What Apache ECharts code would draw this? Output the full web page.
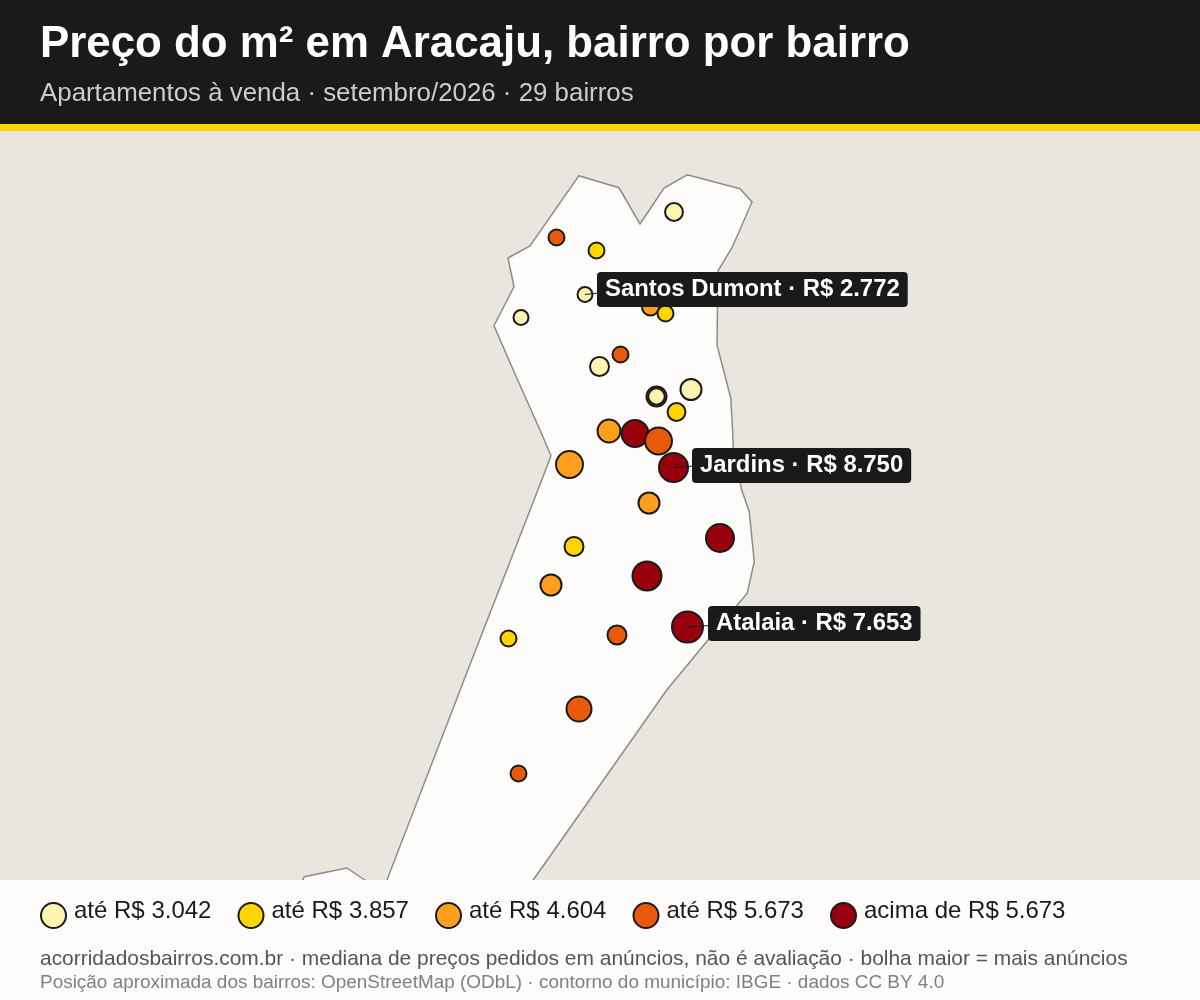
<!DOCTYPE html>
<html>
<head>
<meta charset="utf-8">
<title>Preço do m² em Aracaju</title>
<script src="https://cdn.jsdelivr.net/npm/echarts@6/dist/echarts.min.js"></script>
<style>
html, body { margin: 0; padding: 0; background: #fdfcfa; }
#main { width: 1200px; height: 1000px; }
</style>
</head>
<body>
<div id="main"></div>
<script>
// contorno do municipio (lon/lat aproximados)
var contornoLon = [-37.0685, -37.0524, -37.0440, -37.0344, -37.0251, -37.0040, -36.9992, -37.0071, -37.0128, -37.0132,
  -37.0077, -37.0069, -37.0067, -37.0033, -37.0003, -36.9983, -37.0011, -37.0168, -37.0333, -37.0867,
  -37.1000, -37.1820, -37.1789, -37.1783, -37.1613, -37.1541, -37.1488, -37.1452, -37.1144, -37.0833,
  -37.0796, -37.0840, -37.0933, -37.1024, -37.0944, -37.0968, -37.0880];
var contornoLat = [-10.8503, -10.8551, -10.8696, -10.8552, -10.8499, -10.8555, -10.8608, -10.8789, -10.8883, -10.9180,
  -10.9392, -10.9532, -10.9592, -10.9760, -10.9847, -11.0047, -11.0173, -11.0360, -11.0560, -11.1320,
  -11.1520, -11.1520, -11.1320, -11.1307, -11.1272, -11.1320, -11.1368, -11.1320, -11.0520, -10.9720,
  -10.9623, -10.9520, -10.9312, -10.9103, -10.8947, -10.8832, -10.8784];

// bairros, na ordem de desenho
var bairroLon = [-37.0774, -37.0614, -37.0304, -37.0660, -37.0916, -37.0398, -37.0338, -37.0518, -37.0602, -37.0236,
  -37.0374, -37.0374, -37.0294, -37.0564, -37.0460, -37.0366, -37.0722, -37.0306, -37.0404, -37.0120,
  -37.0704, -37.0796, -37.0412, -37.0250, -37.0532, -37.0966, -37.0684, -37.0926];
var bairroLat = [-10.8750, -10.8802, -10.8648, -10.8978, -10.9070, -10.9028, -10.9054, -10.9218, -10.9266, -10.9358,
  -10.9386, -10.9386, -10.9448, -10.9524, -10.9534, -10.9564, -10.9658, -10.9670, -10.9812, -10.9952,
  -10.9986, -11.0140, -11.0104, -11.0308, -11.0340, -11.0354, -11.0636, -11.0894];
var anuncios = [36, 36, 44, 32, 32, 40, 36, 36, 49, 59,
  54, 38, 44, 69, 93, 93, 93, 107, 59, 100,
  49, 59, 107, 121, 49, 36, 81, 36];
var faixa = [3, 1, 0, 0, 0, 2, 1, 3, 0, 0,
  1, 0, 1, 2, 4, 3, 2, 4, 2, 4,
  1, 2, 4, 4, 3, 1, 3, 3];

// legenda
var faixaCores = ['#fff3b0', '#ffd500', '#ff9f1c', '#e8590c', '#99000d'];
var faixaTextos = ['até R$ 3.042', 'até R$ 3.857', 'até R$ 4.604', 'até R$ 5.673', 'acima de R$ 5.673'];

// bairros com rotulo
var rotuloBairro = [3, 17, 23];
var rotuloNome = ['Santos Dumont', 'Jardins', 'Atalaia'];
var rotuloPreco = ['R$ 2.772', 'R$ 8.750', 'R$ 7.653'];

var FONTE = '"Liberation Sans", Arial, sans-serif';
var ESCURO = '#1a1a1a';

var chart = echarts.init(document.getElementById('main'));

var pontos = [];
for (var i = 0; i < bairroLon.length; i++) {
  pontos.push({
    value: [bairroLon[i], bairroLat[i], anuncios[i]],
    itemStyle: { color: faixaCores[faixa[i]] }
  });
}

var rotulos = [];
for (var j = 0; j < rotuloBairro.length; j++) {
  rotulos.push([bairroLon[rotuloBairro[j]], bairroLat[rotuloBairro[j]]]);
}
var rotuloDesloc = [[12, -5], [18.5, -2], [20.5, -3.5]];

// legenda e rodape
var xLegenda = [40, 237.5, 435, 632.5, 830];
var extras = [
  { type: 'rect', z: 1, shape: { x: 0, y: 0, width: 1200, height: 124 }, style: { fill: ESCURO } },
  { type: 'rect', z: 1, shape: { x: 0, y: 124, width: 1200, height: 7 }, style: { fill: '#ffd500' } },
  { type: 'rect', z: 8, shape: { x: 0, y: 880, width: 1200, height: 120 }, style: { fill: '#fdfcfa' } }
];
faixaTextos.forEach(function (t, k) {
  extras.push({
    type: 'circle', z: 9,
    shape: { cx: xLegenda[k] + 13.5, cy: 915.5, r: 12.5 },
    style: { fill: faixaCores[k], stroke: ESCURO, lineWidth: 2 }
  });
  extras.push({
    type: 'text', z: 9, x: xLegenda[k] + 34, y: 911,
    style: { text: t, fill: ESCURO, font: '24px ' + FONTE, verticalAlign: 'middle' }
  });
});
extras.push({
  type: 'text', z: 9, x: 40, y: 959,
  style: { text: 'acorridadosbairros.com.br · mediana de preços pedidos em anúncios, não é avaliação · bolha maior = mais anúncios',
    fill: '#555555', font: '20.95px ' + FONTE, verticalAlign: 'middle' }
});
extras.push({
  type: 'text', z: 9, x: 40, y: 983,
  style: { text: 'Posição aproximada dos bairros: OpenStreetMap (ODbL) · contorno do município: IBGE · dados CC BY 4.0',
    fill: '#808080', font: '18.95px ' + FONTE, verticalAlign: 'middle' }
});

var option = {
  animation: false,
  backgroundColor: '#e9e6df',
  title: [
    { text: 'Preço do m² em Aracaju, bairro por bairro', left: 35, top: 18,
      textStyle: { color: '#ffffff', fontFamily: FONTE, fontWeight: 'bold', fontSize: 43.85 } },
    { text: 'Apartamentos à venda · setembro/2026 · 29 bairros', left: 35, top: 76,
      textStyle: { color: '#cccccc', fontFamily: FONTE, fontWeight: 'normal', fontSize: 25.87 } }
  ],
  grid: { left: 0, right: 0, top: 0, bottom: 0 },
  xAxis: { type: 'value', min: -37.30, max: -36.82, show: false },
  yAxis: { type: 'value', min: -11.18, max: -10.78, show: false },
  graphic: extras,
  series: [
    {
      type: 'custom',
      z: 1,
      silent: true,
      clip: false,
      data: [[contornoLon[0], contornoLat[0]]],
      renderItem: function (params, api) {
        var pts = contornoLon.map(function (lon, n) {
          return api.coord([lon, contornoLat[n]]);
        });
        return {
          type: 'polygon',
          shape: { points: pts },
          style: { fill: '#fdfcfa', stroke: '#8e8c86', lineWidth: 1.5 }
        };
      }
    },
    {
      type: 'scatter',
      z: 2,
      silent: true,
      data: pontos,
      symbol: 'circle',
      symbolSize: function (val) {
        return 3 * Math.sqrt(val[2]) - 2;
      },
      itemStyle: { borderColor: ESCURO, borderWidth: 2, opacity: 1 }
    },
    {
      type: 'custom',
      z: 3,
      silent: true,
      clip: false,
      data: rotulos,
      renderItem: function (params, api) {
        var n = params.dataIndex;
        var p = api.coord([api.value(0), api.value(1)]);
        var d = rotuloDesloc[n];
        return {
          type: 'group',
          children: [
            {
              type: 'line',
              shape: { x1: p[0], y1: p[1], x2: p[0] + d[0] + 2, y2: p[1] - 1.5 },
              style: { stroke: ESCURO, lineWidth: 1 }
            },
            {
              type: 'text',
              x: p[0] + d[0],
              y: p[1] + d[1],
              style: {
                text: rotuloNome[n] + ' · ' + rotuloPreco[n],
                fill: '#ffffff',
                font: 'bold 23.9px ' + FONTE,
                verticalAlign: 'middle',
                backgroundColor: ESCURO,
                borderRadius: 4,
                padding: [4, 8, 7, 8]
              }
            }
          ]
        };
      }
    }
  ]
};
chart.setOption(option);
</script>
</body>
</html>
